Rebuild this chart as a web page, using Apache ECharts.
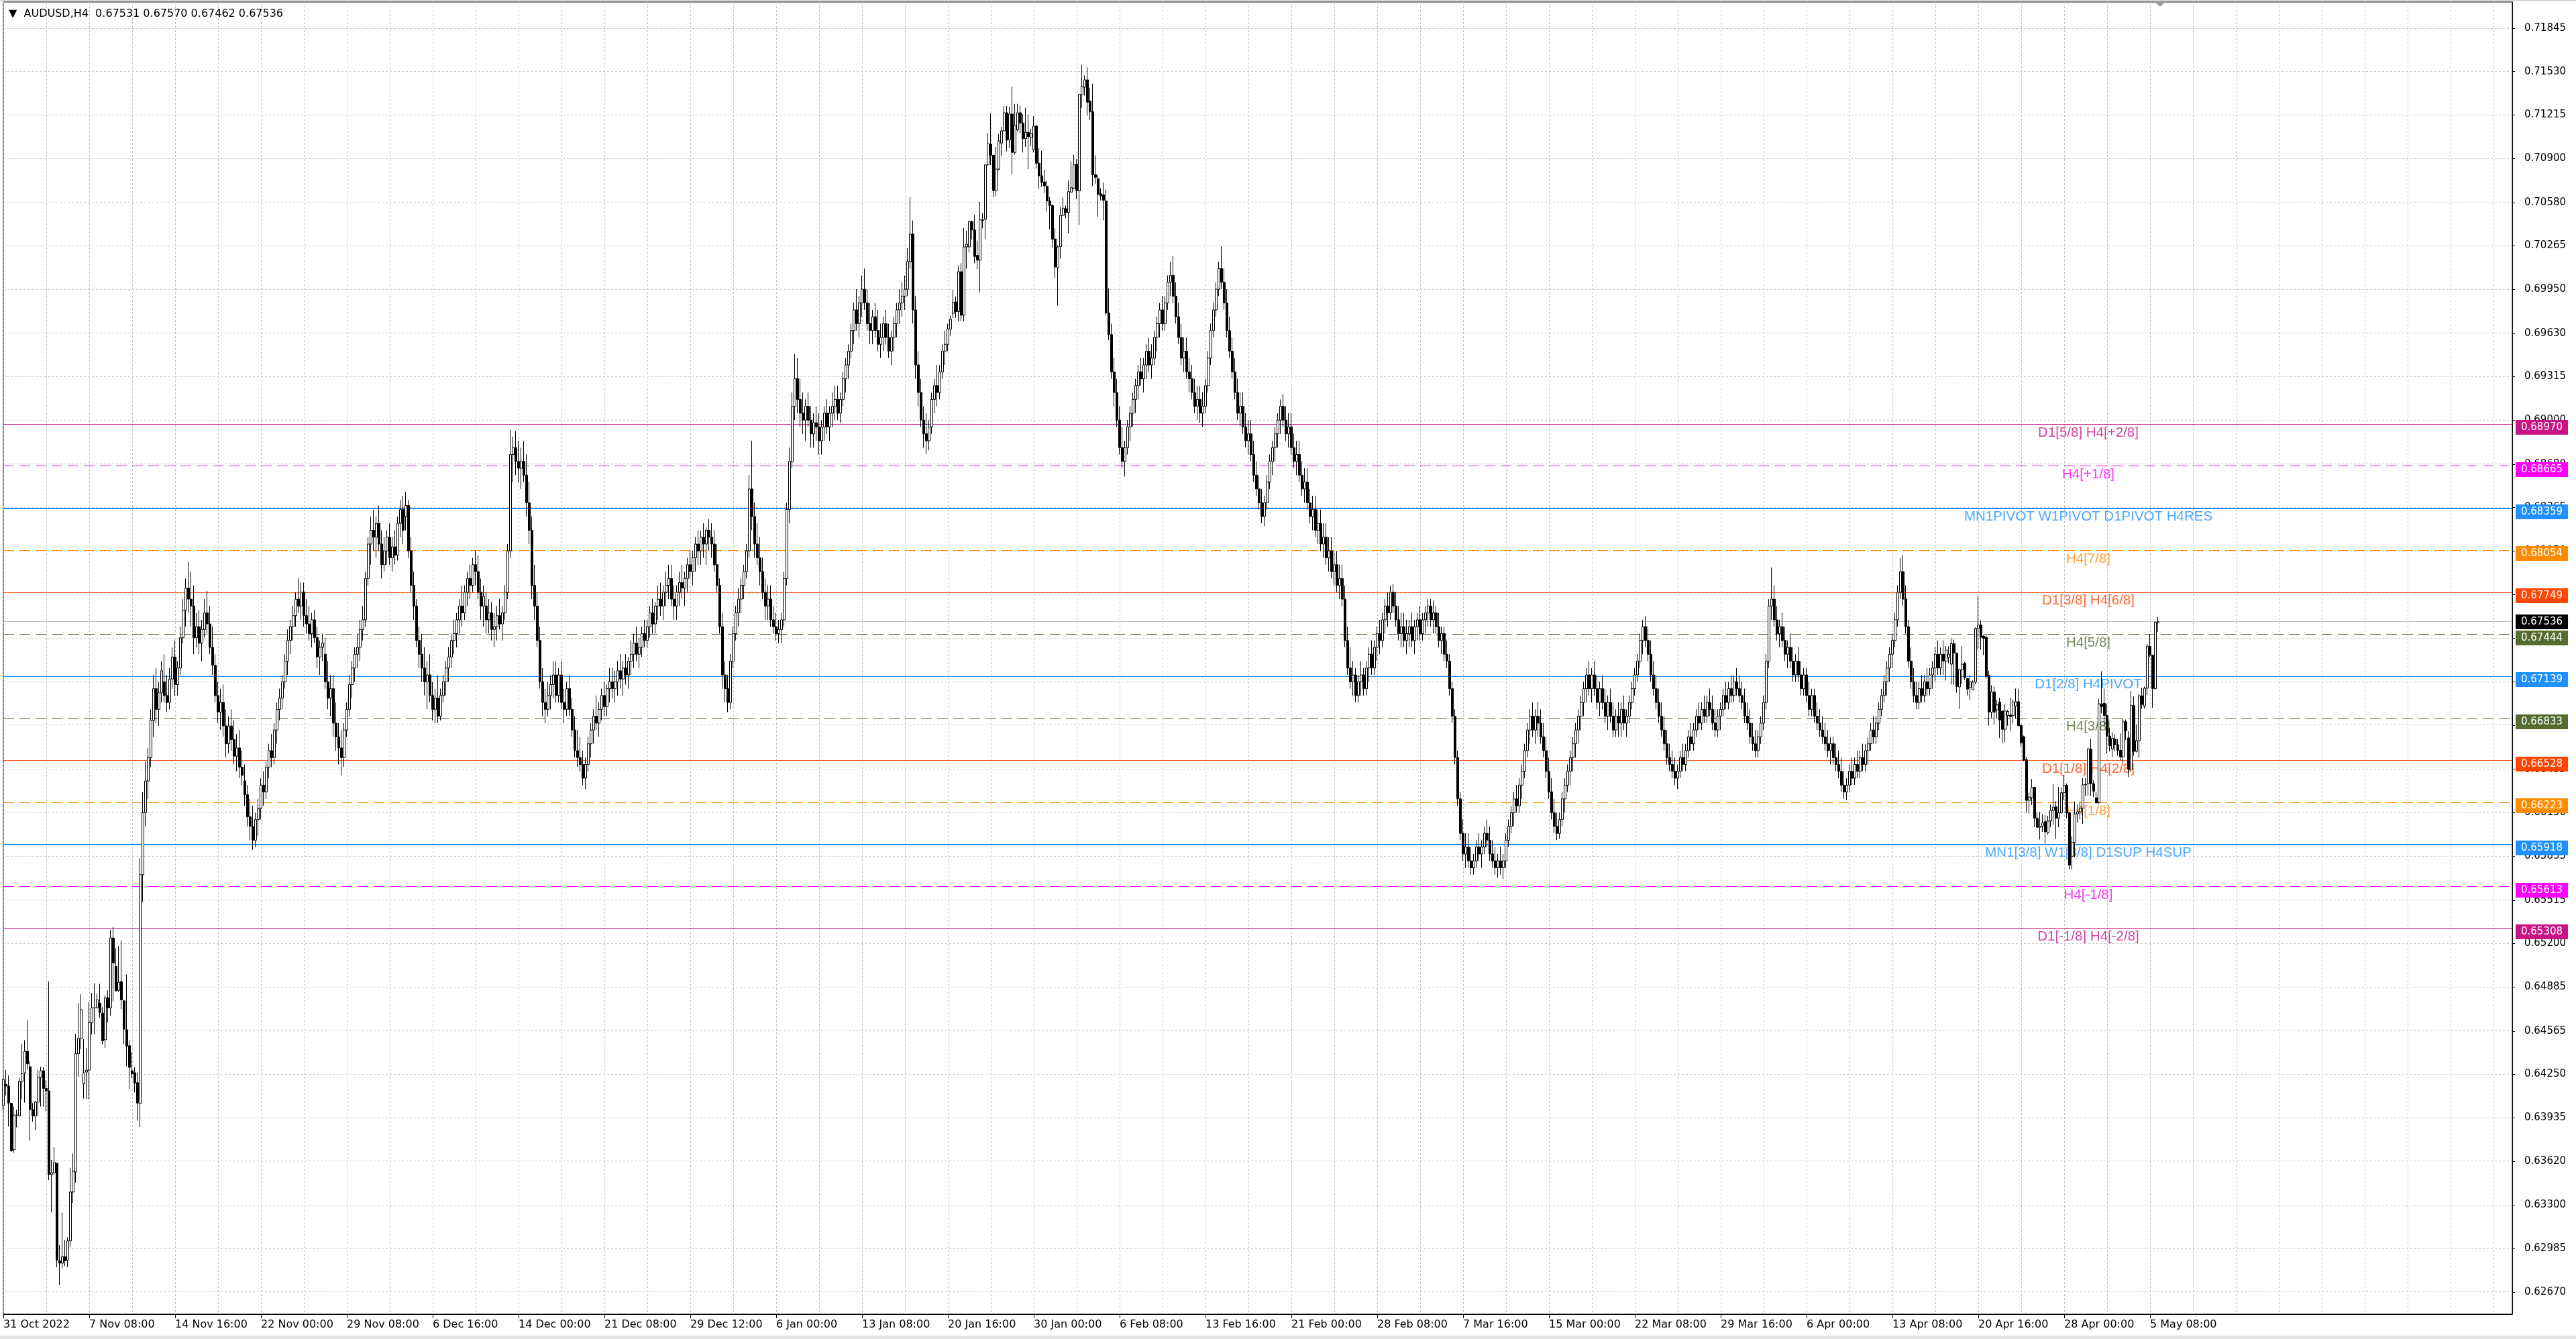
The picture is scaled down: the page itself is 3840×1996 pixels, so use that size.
<!DOCTYPE html>
<html><head><meta charset="utf-8">
<script src="https://cdn.jsdelivr.net/npm/echarts@6/dist/echarts.min.js"></script>
<style>html,body{margin:0;padding:0;background:#fff;overflow:hidden}#c{width:3840px;height:1996px}</style>
</head><body><div id="c"></div><script>
const headerText = 'AUDUSD,H4  0.67531 0.67570 0.67462 0.67536';
const timeLabels = ['31 Oct 2022','7 Nov 08:00','14 Nov 16:00','22 Nov 00:00','29 Nov 08:00','6 Dec 16:00','14 Dec 00:00','21 Dec 08:00','29 Dec 12:00','6 Jan 00:00','13 Jan 08:00','20 Jan 16:00','30 Jan 00:00','6 Feb 08:00','13 Feb 16:00','21 Feb 00:00','28 Feb 08:00','7 Mar 16:00','15 Mar 00:00','22 Mar 08:00','29 Mar 16:00','6 Apr 00:00','13 Apr 08:00','20 Apr 16:00','28 Apr 00:00','5 May 08:00'];
const priceTicks = [0.71845,0.71530,0.71215,0.70900,0.70580,0.70265,0.69950,0.69630,0.69315,0.69000,0.68680,0.68365,0.68050,0.67735,0.67415,0.67100,0.66785,0.66465,0.66150,0.65835,0.65515,0.65200,0.64885,0.64565,0.64250,0.63935,0.63620,0.63300,0.62985,0.62670];
// H4 bars, [open, high, low, close] in units of 0.00001
const barsOct31 = [[64025,64224,63985,64212],[64177,64284,64096,64165],[64165,64241,63871,64042],[64040,64040,63687,63695],[63704,64016,63681,63955],[63955,63994,63866,63955],[63948,64224,63948,64199],[64199,64472,64071,64255],[64262,64498,64045,64417],[64417,64643,64284,64327],[64305,64344,63769,63994],[63994,64042,63907,63948],[63948,64057,63845,64049],[64049,64281,63948,64228],[64228,64306,64016,64276],[64276,64301,64016,64148],[64148,64207,63982,64130],[64130,64924,63482,63524],[63524,63630,63248,63536],[63536,63721,63524,63610],[63605,63605,62850,62901],[62896,63012,62722,62879],[62879,63246,62841,62927],[62927,63050,62858,62896],[62901,63067,62850,63041],[63041,63572,62999,63396],[63396,63675,63316,63547],[63541,64544,63465,64400],[64400,64767,64233,64510],[64510,64831,64434,64720],[64182,64506,64074,64262],[64267,64443,64071,64281],[64281,64774,64066,64626],[64626,64842,64540,64733],[64733,64911,64540,64733],[64733,64836,64728,64791],[64767,64907,64660,64699],[64694,64737,64467,64494],[64501,64825,64443,64805],[64805,64860,64626,64733],[64733,65300,64677,65240],[65240,65320,64779,65058],[65035,65167,64853,64856],[64860,65181,64848,64919],[64924,65223,64723,64791],[64784,64791,64472,64578],[64574,64976,64310,64455],[64458,64498,64142,64301],[64276,64412,64224,64255],[64262,64301,64119,64187],[64190,64262,63914,64042]];
const barsNov10 = [[64037,65820,63866,65700],[65700,66300,65500,66150],[66150,66520,66050,66380],[66380,66620,66250,66550],[66550,66900,66480,66820],[66820,67150,66700,67050],[67050,67200,66800,66900],[66900,67100,66780,67020],[67020,67250,66950,67180],[67100,67300,66950,67000],[67000,67150,66880,66950],[66950,67200,66900,67120],[67120,67350,67050,67280],[67280,67400,67000,67080],[67080,67250,67000,67200],[67200,67500,67150,67420],[67420,67700,67380,67620],[67620,67850,67500,67780],[67780,67970,67600,67700],[67700,67900,67500,67650],[67650,67800,67300,67420],[67420,67600,67350,67500],[67500,67620,67300,67380],[67380,67550,67250,67480],[67480,67700,67420,67600],[67600,67760,67450,67520],[67520,67650,67300,67350],[67350,67500,67150,67220],[67220,67300,66950,67000],[67000,67100,66800,66880],[66880,67050,66750,66950],[66950,67080,66700,66780],[66780,66900,66550,66650],[66650,66850,66580,66780],[66780,66900,66600,66680],[66680,66820,66500,66560],[66560,66720,66450,66620],[66620,66750,66400,66480],[66480,66600,66350,66420],[66380,66500,66200,66280],[66280,66350,66050,66120],[66120,66250,65950,66050],[66050,66200,65880,65950],[65950,66150,65900,66100],[66100,66250,65980,66180],[66180,66400,66100,66350],[66350,66450,66200,66300],[66300,66520,66250,66480],[66480,66650,66400,66600],[66600,66720,66480,66550],[66550,66800,66500,66750],[66750,66950,66650,66900],[66900,67050,66820,66980],[66980,67150,66900,67100],[67100,67300,67050,67250],[67250,67480,67150,67400],[67400,67550,67300,67500],[67500,67650,67400,67580],[67580,67750,67500,67700],[67700,67850,67600,67650],[67650,67820,67550,67750],[67750,67820,67500,67580],[67580,67700,67450,67520],[67520,67650,67400,67450],[67450,67600,67350,67550],[67550,67620,67380,67420],[67420,67500,67200,67280],[67280,67400,67150,67350],[67350,67450,67250,67380],[67300,67420,67050,67100],[67100,67250,66900,66980],[66980,67150,66850,67050],[67050,67150,66700,66800],[66800,66950,66600,66700],[66700,66800,66500,66620],[66620,66750,66420,66550],[66550,66800,66480,66750],[66750,66950,66700,66900],[66900,67150,66850,67080],[67080,67250,66980,67200],[67200,67350,67100,67300],[67300,67450,67200,67350],[67350,67550,67250,67480],[67480,67650,67400,67550],[67550,67900,67500,67850],[67850,68150,67800,68100],[68100,68300,67950,68200],[68200,68350,68050,68150],[68150,68300,68000,68250],[68250,68380,68050,68100],[68100,68200,67850,67950],[67950,68150,67900,68050],[68050,68200,67950,68150],[68150,68250,67950,68000],[68000,68150,67900,68080],[68080,68200,67950,68020],[68020,68300,67980,68250],[68250,68420,68150,68350],[68350,68450,68100,68200],[68300,68480,68200,68380],[68380,68420,68000,68050],[68050,68150,67750,67800],[67800,67900,67550,67650],[67650,67700,67350,67400],[67400,67500,67200,67300],[67300,67450,67100,67200],[67200,67350,67000,67100],[67100,67250,66900,67150],[67150,67300,66950,67000],[67000,67100,66820,66900],[66900,67050,66800,66980],[66980,67150,66800,66850],[66850,67050,66820,67000]];
const barsDec7 = [[67000,67150,66950,67100],[67100,67250,67000,67200],[67200,67350,67100,67280],[67280,67450,67200,67400],[67400,67550,67300,67450],[67450,67600,67350,67550],[67550,67700,67450,67650],[67650,67800,67500,67600],[67600,67800,67550,67750],[67750,67900,67650,67850],[67850,67950,67700,67800],[67800,68000,67750,67950],[67950,68050,67800,67900],[67900,68020,67700,67750],[67750,67850,67550,67650],[67650,67800,67500,67720],[67650,67750,67450,67550],[67550,67700,67450,67600],[67600,67680,67400,67480],[67480,67600,67350,67500],[67500,67650,67400,67580],[67580,67700,67480,67520],[67520,67650,67400,67600],[67600,67800,67550,67750],[67750,68100,67700,68050],[68050,68930,68000,68750],[68750,68880,68550,68800],[68800,68920,68600,68700],[68700,68850,68550,68650],[68650,68800,68500,68700],[68700,68850,68550,68600],[68600,68750,68300,68400],[68400,68550,68100,68200],[68200,68300,67700,67800],[67800,67950,67550,67650],[67650,67750,67350,67400],[67400,67500,67050,67100],[67100,67200,66850,66950],[66950,67050,66800,66900],[66900,67100,66850,67000],[67000,67150,66900,67080],[67080,67250,66980,67150],[67150,67250,66950,67000],[67000,67200,66950,67150],[67150,67250,66900,66950],[66950,67050,66800,66900],[66900,67100,66850,67050],[67050,67150,66850,66900],[66900,66980,66700,66750],[66750,66850,66550,66600],[66600,66750,66480,66550],[66550,66700,66450,66500],[66500,66600,66350,66400],[66400,66550,66320,66500],[66500,66700,66450,66650],[66650,66800,66550,66750],[66750,66900,66650,66850],[66850,67000,66750,66800],[66800,66950,66700,66900],[66900,67050,66820,67000],[67000,67100,66850,66920],[66920,67080,66850,67050],[67050,67200,66950,67100],[67100,67200,66980,67050],[67050,67180,66950,67100],[67100,67250,67000,67180],[67180,67300,67050,67120],[67120,67250,67000,67200],[67200,67300,67080,67150],[67150,67280,67050,67250],[67250,67400,67150,67300],[67300,67450,67200,67380],[67380,67500,67250,67300],[67300,67420,67200,67350],[67350,67500,67280,67450],[67450,67550,67350,67400],[67400,67550,67350,67500],[67500,67650,67420,67600],[67600,67700,67450,67520],[67520,67680,67450,67650],[67650,67800,67550,67700],[67700,67820,67580,67650],[67650,67800,67550,67750],[67750,67900,67650,67800],[67800,67950,67700,67850],[67850,67950,67650,67700],[67700,67800,67550,67650],[67650,67800,67550,67750],[67750,67900,67650,67820],[67820,67950,67700,67780],[67780,67900,67650,67850],[67850,68000,67750,67950],[67950,68050,67850,67900],[67900,68050,67800,68000],[68000,68150,67900,68100],[68100,68200,67950,68050],[68050,68200,67950,68150],[68150,68250,68000,68100],[68100,68220,67950,68200],[68200,68280,68050,68150],[68150,68250,68000,68100],[68100,68200,67900,67950],[67950,68100,67750,67800],[67800,67850,67450,67500],[67500,67600,67050,67150],[67150,67250,66950,67050],[67050,67150,66880,66950],[66950,67300,66900,67250],[67250,67500,67200,67450],[67450,67650,67400,67600],[67600,67780,67500,67700],[67700,67850,67600,67800],[67800,67950,67700,67900]];
const barsJan4 = [[67900,68100,67850,68050],[68050,68600,68000,68500],[68500,68850,68200,68300],[68300,68400,68000,68100],[68100,68250,67950,68000],[68000,68150,67800,67900],[67900,68000,67700,67750],[67750,67850,67550,67650],[67650,67800,67550,67700],[67700,67800,67500,67550],[67550,67650,67450,67500],[67500,67600,67400,67450],[67450,67550,67380,67480],[67480,67600,67380,67550],[67550,67900,67500,67850],[67850,68400,67800,68350],[68350,68800,68250,68700],[68700,69200,68650,69100],[69100,69480,69000,69300],[69300,69450,69050,69150],[69150,69300,68950,69050],[69050,69200,68900,69000],[69000,69150,68850,69100],[69100,69200,68950,69000],[69000,69100,68800,68900],[68900,69050,68800,68980],[68980,69100,68850,68950],[68950,69050,68750,68850],[68850,69000,68750,68950],[68950,69100,68850,69050],[69050,69150,68900,68950],[68950,69100,68850,69050],[69050,69200,68950,69100],[69100,69250,69000,69150],[69150,69250,69000,69050],[69050,69200,68980,69150],[69150,69350,69100,69300],[69300,69450,69200,69400],[69400,69550,69300,69500],[69500,69700,69450,69650],[69650,69850,69550,69800],[69800,69950,69650,69700],[69700,69900,69600,69850],[69850,70050,69750,69950],[69950,70100,69800,69850],[69850,69950,69650,69700],[69700,69850,69550,69650],[69650,69800,69550,69750],[69750,69850,69600,69650],[69650,69800,69500,69550],[69550,69700,69450,69600],[69600,69750,69500,69700],[69700,69800,69550,69600],[69600,69700,69450,69500],[69500,69650,69400,69600],[69600,69750,69500,69700],[69700,69850,69600,69800],[69800,69950,69700,69850],[69850,70000,69750,69900],[69900,70050,69800,69950],[69950,70250,69900,70150],[70150,70620,70100,70350],[70350,70450,69700,69800],[69800,69900,69300,69400],[69400,69500,69100,69200],[69200,69300,68950,69000],[69000,69100,68800,68900],[68900,69050,68750,68850],[68850,69000,68780,68950],[68950,69200,68900,69150],[69150,69300,69050,69250],[69250,69400,69100,69200],[69200,69400,69150,69350],[69350,69550,69300,69500],[69500,69650,69400,69550],[69550,69700,69500,69660]];
const barsJan20 = [[69660,69760,69612,69733],[69774,69944,69742,69855],[69858,69896,69742,69787],[69787,70122,69717,70077],[70077,70138,69717,69761],[69761,70395,69717,70257],[70257,70374,70098,70277],[70257,70449,70217,70441],[70441,70449,70312,70380],[70380,70490,70139,70188],[70196,70303,70094,70161],[70161,70584,69928,70454],[70454,70503,70392,70449],[70457,70853,70313,70853],[70853,71085,70849,71007],[71003,71227,70853,70923],[70923,70923,70617,70666],[70666,70983,70625,70822],[70822,71076,70814,71027],[71011,71129,70919,71100],[71100,71280,71097,71231],[71231,71280,70951,71032],[71035,71275,70975,71222],[71222,71421,70786,70943],[70943,71296,70927,71141],[71108,71296,71097,71231],[71231,71283,71081,71157],[71157,71222,70943,71043],[71043,71267,70983,71089],[71089,71218,70822,71057],[71052,71113,70988,71081],[70963,71206,70943,71134],[71134,71141,70826,70865],[70865,70975,70679,70773],[70773,70956,70692,70724],[70729,70817,70648,70700],[70697,70736,70514,70590],[70590,70619,70386,70558],[70558,70563,70255,70312],[70315,70392,70033,70111],[70106,70269,69831,70257],[70260,70546,70172,70486],[70486,70616,70480,70538],[70535,70558,70465,70506],[70506,70741,70358,70658],[70655,70878,70652,70687],[70684,70927,70676,70853],[70858,70894,70603,70664],[70664,71364,70417,71364],[71361,71578,71267,71421],[71416,71502,71356,71470],[71470,71562,71211,71308],[71316,71413,71178,71238],[71238,71442,70700,70781],[70781,70923,70716,70762],[70752,70781,70477,70639],[70643,70682,70595,70627],[70635,70724,70449,70595],[70590,70674,69761,69777],[69777,69955,69580,69620]];
const barsFeb3 = [[69620,69700,69300,69350],[69350,69450,69100,69200],[69200,69300,68950,69000],[69000,69100,68750,68800],[68800,68950,68650,68700],[68700,68850,68590,68800],[68800,69000,68750,68950],[68950,69100,68850,69050],[69050,69200,68950,69150],[69150,69300,69050,69250],[69250,69400,69150,69350],[69350,69450,69250,69300],[69300,69450,69200,69400],[69400,69550,69300,69500],[69500,69600,69350,69400],[69400,69550,69300,69450],[69450,69650,69400,69600],[69600,69750,69500,69700],[69700,69850,69600,69800],[69800,69900,69650,69700],[69700,69900,69650,69850],[69850,70050,69800,70000],[70000,70150,69900,70050],[70050,70190,69850,69900],[69900,70000,69700,69750],[69750,69850,69550,69600],[69600,69700,69400,69450],[69450,69600,69350,69500],[69500,69600,69300,69350],[69350,69450,69200,69300],[69300,69400,69150,69200],[69200,69300,69050,69100],[69100,69250,69000,69150],[69150,69250,68980,69050],[69050,69200,68950,69100],[69100,69300,69050,69250],[69250,69500,69200,69450],[69450,69700,69400,69650],[69650,69850,69600,69800],[69800,70000,69750,69950],[69950,70150,69900,70100],[70100,70260,69950,70000],[70000,70100,69800,69850],[69850,69950,69600,69650],[69650,69750,69450,69500],[69500,69600,69300,69350],[69350,69450,69150,69200],[69200,69300,69000,69050],[69050,69200,68950,69100],[69100,69200,68900,68950],[68950,69050,68800,68850],[68850,69000,68750,68900],[68900,69000,68700,68750],[68750,68850,68550,68600],[68600,68700,68450,68500],[68500,68600,68350,68400],[68400,68500,68250,68300],[68300,68450,68230,68400],[68400,68600,68350,68550],[68550,68750,68500,68700],[68700,68850,68600,68800],[68800,68950,68700,68900],[68900,69050,68800,69000],[69000,69150,68900,69100],[69100,69190,68950,69000],[69000,69100,68850,68900],[68900,69050,68800,68950],[68950,69050,68750,68800],[68800,68900,68650,68700],[68700,68850,68600,68750],[68750,68850,68550,68600],[68600,68700,68450,68500],[68500,68650,68400,68550],[68550,68650,68350,68400],[68400,68500,68250,68300],[68300,68450,68200,68350],[68350,68450,68150,68200],[68200,68350,68100,68250],[68250,68350,68050,68100],[68100,68250,68000,68150],[68150,68250,67950,68000],[68000,68150,67900,68050],[68050,68150,67850,67900],[67900,68050,67800,67950],[67950,68050,67750,67800],[67800,67950,67700,67850],[67850,67950,67650,67700],[67700,67800,67350,67400],[67400,67500,67150,67200],[67200,67350,67050,67100],[67100,67250,67000,67150],[67150,67200,66950,67000],[67000,67150,66950,67100],[67100,67250,67000,67150],[67150,67200,67000,67050],[67050,67250,67000,67200],[67200,67350,67100,67300],[67300,67400,67150,67200],[67200,67400,67150,67350],[67350,67500,67250,67450],[67450,67550,67300,67400],[67400,67600,67350,67550],[67550,67700,67450,67650],[67650,67750,67500,67600],[67600,67800,67550,67750],[67750,67810,67600,67650],[67650,67750,67500,67550],[67550,67650,67400,67450],[67450,67600,67350,67500],[67500,67600,67350,67400],[67400,67550,67300,67450],[67450,67550,67350,67500],[67500,67600,67350,67400],[67400,67550,67300,67500],[67500,67600,67400,67550],[67550,67650,67400,67450],[67450,67600,67400,67550],[67550,67650,67450,67600],[67600,67700,67500,67650],[67650,67700,67500,67550],[67550,67690,67450,67600],[67600,67650,67450,67500],[67500,67600,67350,67400],[67400,67500,67300,67450],[67450,67500,67250,67300],[67300,67400,67200,67250],[67250,67300,67000,67050],[67050,67100,66800,66850],[66850,66900,66500,66550],[66550,66600,66200,66250],[66250,66300,65950,66000],[66000,66100,65800,65850],[65850,66000,65750,65900],[65900,66000,65750,65800],[65800,65900,65700,65750],[65750,65850,65700,65800],[65800,65950,65750,65900],[65900,66000,65800,65850],[65850,65950,65750,65900],[65900,66050,65850,66000],[66000,66100,65900,65950],[65950,66050,65800,65850],[65850,65950,65750,65800],[65800,65900,65700,65750],[65750,65850,65680,65800],[65800,65900,65700,65750],[65750,65850,65670,65800],[65800,66000,65750,65950],[65950,66100,65900,66050],[66050,66200,66000,66150],[66150,66300,66050,66250],[66250,66350,66150,66200],[66200,66400,66150,66350],[66350,66500,66250,66450],[66450,66650,66400,66600],[66600,66800,66550,66750],[66750,66900,66650,66850],[66850,66950,66700,66750],[66750,66900,66650,66850],[66850,66950,66700,66800],[66800,66900,66650,66700],[66700,66800,66550,66600],[66600,66700,66400,66450],[66450,66550,66250,66300],[66300,66400,66100,66150],[66150,66250,66000,66050],[66050,66150,65950,66000],[66000,66150,65960,66100],[66100,66300,66050,66250],[66250,66400,66150,66350],[66350,66500,66300,66450],[66450,66600,66350,66550],[66550,66700,66450,66650],[66650,66800,66550,66750],[66750,66900,66650,66850],[66850,67000,66750,66950],[66950,67100,66850,67050],[67050,67200,66950,67150],[67150,67250,67000,67050],[67050,67200,66950,67150],[67150,67250,67000,67050],[67050,67150,66900,66950],[66950,67100,66850,67050],[67050,67150,66900,66950],[66950,67050,66800,66850],[66850,67000,66750,66950],[66950,67050,66800,66850],[66850,66950,66700,66750]];
const barsMar29 = [[66750,66900,66700,66850],[66850,66950,66700,66800],[66800,66950,66700,66900],[66900,67000,66750,66800],[66800,66900,66700,66850],[66850,67000,66800,66950],[66950,67100,66900,67050],[67050,67200,67000,67150],[67150,67300,67100,67250],[67250,67450,67200,67400],[67400,67550,67300,67500],[67500,67580,67350,67400],[67400,67500,67250,67300],[67300,67400,67100,67150],[67150,67250,67000,67050],[67050,67150,66900,66950],[66950,67050,66800,66850],[66850,66950,66700,66750],[66750,66850,66600,66650],[66650,66750,66500,66550],[66550,66650,66450,66500],[66500,66600,66400,66450],[66450,66550,66350,66400],[66400,66500,66320,66450],[66450,66600,66400,66550],[66550,66650,66450,66500],[66500,66650,66450,66600],[66600,66750,66550,66700],[66700,66800,66600,66650],[66650,66800,66600,66750],[66750,66900,66700,66850],[66850,66950,66750,66800],[66800,66950,66750,66900],[66900,67000,66800,66850],[66850,67000,66800,66950],[66950,67050,66850,66900],[66900,67000,66750,66800],[66800,66900,66700,66750],[66750,66900,66700,66850],[66850,66950,66750,66900],[66900,67050,66850,67000],[67000,67100,66900,66950],[66950,67100,66900,67050],[67050,67150,66950,67000],[67000,67150,66950,67100],[67100,67200,67000,67050],[67050,67150,66950,67000],[67000,67100,66900,66950],[66950,67050,66800,66850],[66850,66950,66750,66800],[66800,66900,66650,66700],[66700,66800,66600,66650],[66650,66750,66550,66600],[66600,66750,66550,66700],[66700,66850,66650,66800],[66800,67000,66750,66950],[66950,67300,66900,67250],[67250,67700,67200,67650],[67650,67930,67550,67700],[67700,67800,67500,67550],[67550,67650,67400,67450],[67450,67550,67350,67500],[67500,67600,67350,67400],[67400,67500,67250,67300],[67300,67400,67200,67350],[67350,67450,67200,67250],[67250,67350,67100,67150],[67150,67300,67100,67250],[67250,67350,67100,67150],[67150,67250,67000,67050],[67050,67200,67000,67150],[67150,67200,66950,67000],[67000,67100,66850,66900],[66900,67050,66850,67000],[67000,67050,66800,66850],[66850,66950,66750,66800],[66800,66900,66700,66750],[66750,66850,66650,66700],[66700,66800,66600,66650],[66650,66750,66550,66600],[66600,66700,66500,66650],[66650,66700,66500,66550],[66550,66650,66450,66500],[66500,66600,66400,66450],[66450,66550,66300,66350],[66350,66450,66250,66300],[66300,66400,66240,66350],[66350,66500,66300,66450],[66450,66550,66350,66400],[66400,66550,66350,66500],[66500,66600,66400,66450],[66450,66600,66400,66550],[66550,66650,66450,66500],[66500,66650,66450,66600],[66600,66700,66500,66650],[66650,66800,66600,66750],[66750,66850,66650,66700],[66700,66850,66650,66800],[66800,66950,66750,66900],[66900,67050,66850,67000],[67000,67150,66950,67100],[67100,67250,67000,67200],[67200,67350,67100,67300],[67300,67450,67200,67400],[67400,67600,67350,67550],[67550,67800,67500,67750],[67750,68000,67700,67900],[67900,68020,67650,67700],[67700,67800,67450,67500],[67500,67550,67200,67250],[67250,67350,67050,67100],[67100,67200,66950,67000],[67000,67100,66900,66950],[66950,67100,66900,67050],[67050,67150,66950,67000],[67000,67150,66950,67100],[67100,67200,67000,67050],[67050,67200,67000,67150],[67150,67250,67050,67200],[67200,67350,67100,67300],[67300,67400,67150,67200],[67200,67350,67150,67300],[67300,67400,67150,67250]];
const barsApr21 = [[67250,67360,67110,67330],[67277,67358,67236,67301],[67228,67415,67080,67377],[67377,67407,67080,67309],[67309,67309,67021,67066],[67063,67196,66904,67188],[67188,67358,67083,67228],[67236,67244,67115,67131],[67123,67123,67001,67047],[67058,67148,66969,67099],[67042,67110,67040,67098],[67098,67496,67082,67488],[67488,67723,67334,67512],[67512,67545,67334,67423],[67431,67439,67293,67415],[67423,67439,67123,67139],[67148,67180,66782,66880],[66880,67075,66839,67026],[67026,67066,66790,66880],[66896,66970,66831,66933],[66953,66985,66693,66823],[66888,66891,66653,66755],[66755,66935,66661,66888],[66855,66896,66782,66885],[66859,66985,66742,66847],[66855,66972,66799,66953],[66924,67050,66831,66956],[66956,67050,66774,66782],[66782,66790,66628,66657],[66701,66709,66523,66531],[66534,66555,66149,66239],[66239,66295,66145,66263],[66259,66393,66206,66333],[66333,66339,66044,66109],[66109,66149,66036,66044],[66044,66157,65955,66052],[66052,66141,66011,66076],[66085,66133,65927,66011],[66003,66128,65990,66089],[66089,66209,66044,66166],[66166,66356,66060,66190],[66193,66234,65960,66109],[66109,66336,66044,66149],[66149,66333,66141,66295],[66295,66425,66242,66349],[66349,66360,66109,66149],[66149,66157,65736,65768],[65833,65979,65736,65934],[65934,66231,65825,66141],[66141,66206,66076,66157],[66157,66231,66101,66182],[66181,66401,66068,66352],[66352,66401,66271,66355],[66360,66620,66271,66612],[66612,66685,66271,66360],[66360,66384,66263,66306],[66258,66303,66214,66222],[66222,66977,66214,66940],[66940,67176,66871,66920],[66944,67050,66774,66855],[66855,66940,66579,66706],[66706,66766,66595,66636],[66612,66733,66555,66690],[66685,66717,66595,66644],[66644,66685,66563,66603],[66603,66725,66530,66555],[66555,66831,66514,66810],[66810,66826,66677,66745],[66693,66741,66409,66465],[66465,67034,66449,66928],[66928,66993,66563,66595],[66595,66790,66587,66673],[66673,67009,66547,66998],[66998,67058,66904,66936],[66923,67066,66904,67053],[67053,67374,67001,67358],[67358,67447,67277,67293],[67293,67297,66912,67050],[67050,67540,67042,67533],[67531,67570,67462,67536]];
const segmentStarts = [[0,barsOct31],[51,barsNov10],[164,barsDec7],[277,barsJan4],[353,barsJan20],[413,barsFeb3],[601,barsMar29],[724,barsApr21]];
const levelPrices = [0.68970,0.68665,0.68359,0.68054,0.67749,0.67444,0.67139,0.66833,0.66528,0.66223,0.65918,0.65613,0.65308];
const levelNames  = ['D1[5/8] H4[+2/8]','H4[+1/8]','MN1PIVOT W1PIVOT D1PIVOT H4RES','H4[7/8]','D1[3/8] H4[6/8]','H4[5/8]','D1[2/8] H4PIVOT','H4[3/8]','D1[1/8] H4[2/8]','H4[1/8]','MN1[3/8] W1[3/8] D1SUP H4SUP','H4[-1/8]','D1[-1/8] H4[-2/8]'];
const levelColors = ['#C71585','#FF00FF','#1E90FF','#FF8C00','#FF4500','#556B2F','#1E90FF','#556B2F','#FF4500','#FF8C00','#1E90FF','#FF00FF','#C71585'];
const levelDashed = [false,true,false,true,false,true,false,true,false,true,false,true,false];
const levelWidths = [1,1,2,1,1,1,1,1,1,1,2,1,1];
const bidPrice = 0.67536;
const labelBar = 777;

const N = 936, BARS_PER_LABEL = 32, BARS_PER_GRID = 16, SCALE = 1e5;
const cats = Array.from({length:N},(_,i)=>String(i));
const bars = new Array(N).fill(null);
segmentStarts.forEach(([s,arr])=>arr.forEach((b,k)=>{bars[s+k]=b;}));
const candles = bars.map(b=> b ? [b[0]/SCALE,b[3]/SCALE,b[2]/SCALE,b[1]/SCALE] : '-');
const FONT_AX = 'DejaVu Sans';

// all horizontal price lines: levels first, then the bid line
const linePrices = levelPrices.concat([bidPrice]);
const lineColors = levelColors.concat(['#c0c0c0']);
const boxColors  = levelColors.concat(['#000000']);
const lineDashed = levelDashed.concat([false]);
const lineWidths = levelWidths.concat([1]);
const boxShift   = levelPrices.map(()=>5).concat([0]);

const snap = (v,w)=> (w%2===0) ? Math.round(v) : Math.round(v-0.5)+0.5;

const chart = echarts.init(document.getElementById('c'));
chart.setOption({
  animation:false,
  backgroundColor:'#fff',
  title:{text:'\u25BC  '+headerText,left:8,top:8,textStyle:{fontFamily:FONT_AX,fontSize:16,fontWeight:'normal',color:'#000'}},
  grid:{left:5,top:3,width:3740,height:1956,show:true,borderColor:'#000',borderWidth:1,backgroundColor:'#fff'},
  xAxis:{type:'category',data:cats,boundaryGap:false,
    axisLine:{show:true,lineStyle:{color:'#000',width:1}},
    axisTick:{show:true,length:6,interval:(i)=>i%BARS_PER_LABEL===0 && i/BARS_PER_LABEL<timeLabels.length,lineStyle:{color:'#000'}},
    axisLabel:{show:true,interval:(i)=>i%BARS_PER_LABEL===0 && i/BARS_PER_LABEL<timeLabels.length,
      formatter:(v,i)=>timeLabels[i/BARS_PER_LABEL]||'',align:'left',margin:8,fontFamily:FONT_AX,fontSize:16,color:'#000'},
    splitLine:{show:true,interval:(i)=>i%BARS_PER_GRID===0,lineStyle:{color:'#c0c0c0',type:[3,3],width:1}}
  },
  yAxis:{type:'value',position:'right',min:0.62509,max:0.72035,scale:true,
    axisLine:{show:true,lineStyle:{color:'#000'}},
    axisTick:{show:true,inside:false,length:4,customValues:priceTicks,lineStyle:{color:'#000'}},
    axisLabel:{show:true,customValues:priceTicks,formatter:(v)=>v.toFixed(5),margin:18,fontFamily:FONT_AX,fontSize:15,color:'#000'},
    splitLine:{show:false}
  },
  graphic:[
    {type:'polygon',shape:{points:[[3212,3],[3228,3],[3220,10]]},style:{fill:'#a0a0a0'},z:10},
    {type:'rect',shape:{x:0,y:0,width:3840,height:2},style:{fill:'#d4d4d4'},z:10},
    {type:'rect',shape:{x:0,y:1991,width:3840,height:5},style:{fill:'#e4e4e4'},z:10}
  ],
  series:[
    {type:'custom',name:'grid',silent:true,z:1,clip:false,
      data:priceTicks.map(p=>[0,p]),encode:{x:0,y:1},
      renderItem:(params,api)=>{
        const cs=params.coordSys; const y=snap(api.coord([0,api.value(1)])[1],1);
        return {type:'line',shape:{x1:cs.x,y1:y,x2:cs.x+cs.width,y2:y},style:{stroke:'#c8c8c8',lineWidth:1,lineDash:[3,3]}};
      }},
    {type:'custom',name:'levels',silent:true,z:2,clip:false,
      data:linePrices.map((p,i)=>[0,p,i]),encode:{x:0,y:1},
      renderItem:(params,api)=>{
        const cs=params.coordSys; const i=api.value(2); const p=api.value(1);
        const y0=api.coord([0,p])[1]; const y=snap(y0,lineWidths[i]);
        return {type:'group',children:[
          {type:'line',z2:1,shape:{x1:cs.x,y1:y,x2:cs.x+cs.width,y2:y},
            style:{stroke:lineColors[i],lineWidth:lineWidths[i],lineDash:lineDashed[i]?[16,8]:null,opacity:1}},
          {type:'text',x:cs.x+cs.width+5,y:Math.round(y0)+boxShift[i],z2:10,
            style:{text:p.toFixed(5),fill:'#fff',backgroundColor:boxColors[i],padding:[4,8,3,8],
              fontSize:15,fontFamily:FONT_AX,verticalAlign:'middle',align:'left'}}
        ]};
      }},
    {type:'scatter',z:3,symbolSize:0,silent:true,
      data:levelPrices.map((p,i)=>({value:[String(labelBar),p],
        label:{show:true,position:'bottom',distance:2,formatter:levelNames[i],color:levelColors[i],fontFamily:'Liberation Sans',fontSize:20.5}}))},
    {type:'candlestick',data:candles,z:5,barWidth:3,large:false,
      itemStyle:{color:'#fff',color0:'#000',borderColor:'#000',borderColor0:'#000',borderWidth:1}}
  ]
});
</script></body></html>
